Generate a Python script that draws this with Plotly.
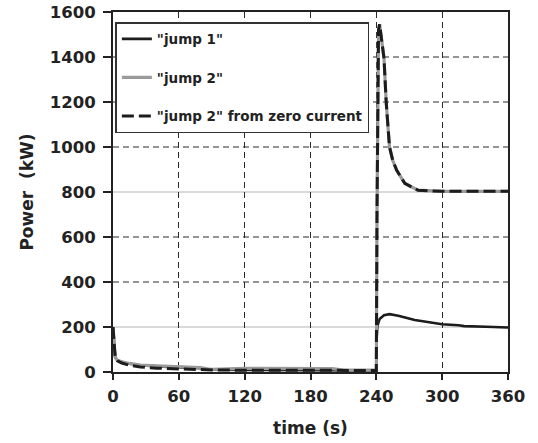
import plotly.graph_objects as go

# ---- data ----
t_jump1 = [0, 1, 2, 4, 8, 15, 25, 40, 60, 80, 86, 90, 120, 180, 240,
           240.3, 241, 243, 247, 252, 260, 275, 290, 300, 315, 320, 340, 360]
p_jump1 = [200, 110, 65, 52, 44, 37, 30, 25, 20, 17, 12, 10, 9, 8, 7,
           150, 205, 236, 252, 257, 250, 231, 218, 212, 208, 204, 201, 198]

t_jump2 = [0, 1, 2, 4, 8, 15, 25, 40, 60, 80, 86, 90, 120, 180, 200, 210, 240,
           240.6, 242, 243, 244.5, 247, 249, 252, 255, 258.5, 266, 278, 300, 360]
p_jump2 = [200, 110, 65, 52, 45, 38, 31, 27, 23, 20, 14, 12, 16, 16, 15, 9, 8,
           700, 1520, 1545, 1480, 1394, 1198, 1000, 940, 897, 838, 808, 803, 803]

t_zero = [0, 1, 2, 4, 8, 15, 25, 40, 60, 80, 90, 120, 180, 240,
          240.6, 242, 243, 244.5, 247, 249, 252, 255, 258.5, 266, 278, 300, 360]
p_zero = [200, 110, 65, 50, 40, 30, 22, 17, 14, 12, 9, 8, 7, 7,
          700, 1520, 1545, 1480, 1394, 1198, 1000, 940, 897, 838, 808, 803, 803]

x_ticks = [0, 60, 120, 180, 240, 300, 360]
y_ticks = [0, 200, 400, 600, 800, 1000, 1200, 1400, 1600]
y_grid_dashed = [400, 600, 1000, 1200, 1400]
y_grid_solid = [200, 800]

FONT = "DejaVu Sans"
TXT = "#222222"
GRID = "#2a2a2a"

fig = go.Figure()
fig.add_trace(go.Scatter(x=t_jump1, y=p_jump1, mode="lines", name='"jump 1"',
                         legendgroup="a",
                         line=dict(color="#1c1c1c", width=2.6)))
fig.add_trace(go.Scatter(x=t_jump2, y=p_jump2, mode="lines", name='"jump 2"',
                         legendgroup="b",
                         line=dict(color="#9a9a9a", width=3.2)))
fig.add_trace(go.Scatter(x=t_zero, y=p_zero, mode="lines",
                         name='"jump 2" from zero current',
                         legendgroup="c",
                         line=dict(color="#1c1c1c", width=3, dash="12px,5px")))

shapes = []
for v in y_grid_dashed:
    shapes.append(dict(type="line", xref="x", yref="y", x0=0, x1=360, y0=v, y1=v,
                       layer="below", line=dict(color=GRID, width=1.1, dash="6px,4px")))
for v in y_grid_solid:
    shapes.append(dict(type="line", xref="x", yref="y", x0=0, x1=360, y0=v, y1=v,
                       layer="below", line=dict(color="#b5b5b5", width=1)))

fig.update_layout(
    width=538, height=443,
    margin=dict(l=113, r=30, t=12, b=71),
    paper_bgcolor="white", plot_bgcolor="white",
    font=dict(family=FONT, color=TXT),
    shapes=shapes,
    showlegend=True,
    legend=dict(x=0.006, y=0.972, xanchor="left", yanchor="top",
                bgcolor="white", bordercolor="#333333", borderwidth=1.5,
                font=dict(family=FONT, size=13.5, color=TXT, weight="bold"),
                tracegroupgap=18, traceorder="grouped"),
    xaxis=dict(range=[0, 360], tickvals=x_ticks, ticktext=[str(v) for v in x_ticks],
               showgrid=True, griddash="6px,4px", gridcolor=GRID, gridwidth=1.1,
               showline=True, mirror=True, linecolor="#222222", linewidth=2,
               ticks="outside", ticklen=6, tickcolor="#222222", tickwidth=1.5,
               zeroline=False, automargin=False, ticklabelstandoff=2,
               tickfont=dict(family=FONT, size=16.5, color=TXT, weight="bold"),
               title=dict(text="time (s)", standoff=17,
                          font=dict(family=FONT, size=17, color=TXT, weight="bold"))),
    yaxis=dict(range=[0, 1600], tickvals=y_ticks, ticktext=[str(v) for v in y_ticks],
               showgrid=False,
               showline=True, mirror=True, linecolor="#222222", linewidth=2,
               ticks="outside", ticklen=8, tickcolor="#222222", tickwidth=1.5,
               zeroline=False, automargin=False, ticklabelstandoff=4,
               tickfont=dict(family=FONT, size=16.5, color=TXT, weight="bold"),
               title=dict(text="Power  (kW)", standoff=12,
                          font=dict(family=FONT, size=17, color=TXT, weight="bold"))),
)

fig.write_html("out.html",
               config={"displayModeBar": False},
               post_script="document.body.style.margin='0';document.body.style.padding='0';")
